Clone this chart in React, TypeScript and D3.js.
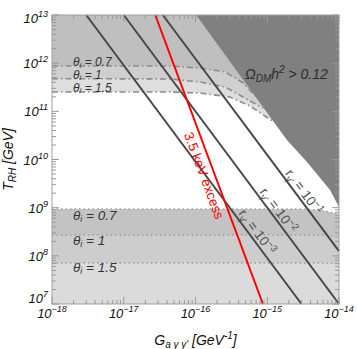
import React from 'react';
import * as d3 from 'd3';

// svg size and plot frame
const svgWidth = 357;
const svgHeight = 349;
const plotLeft = 52;
const plotRight = 339;
const plotTop = 15;
const plotBottom = 304;
const font = '"Liberation Sans", Arial, sans-serif';

// axes: G_{a gamma gamma'} [GeV^-1] and T_RH [GeV]
const gDomain = [1e-18, 1e-14];
const tDomain = [1e7, 1e13];
const xTickExps = [-18, -17, -16, -15, -14];
const yTickExps = [7, 8, 9, 10, 11, 12, 13];

// r_gamma' lines, end points [G, T]
const rExps = ['1', '2', '3'];
const rLines = [
  [[3.5e-17, 1e13], [1e-14, 1.25e8]],
  [[1e-17, 1e13], [1e-14, 1e7]],
  [[3.0e-18, 1e13], [3.0e-15, 1e7]],
];
const rLabelT = [4.7e9, 1.95e9, 6.9e8];

// 3.5 keV excess line
const excessLine = [[2.75e-17, 1e13], [8.7e-16, 1e7]];
const excessLabelT = 5.5e9;

// Omega_DM h^2 > 0.12 boundary
const dmEdge = [
  [1.02e-16, 1e13], [7.4e-16, 1.72e11], [1.88e-15, 2.54e10],
  [3.58e-15, 8.9e9], [7.5e-15, 2.33e9], [1e-14, 1.03e9],
];

// theta_i curves, upper (dash-dot) and lower (dotted)
const thetaNames = ['0.7', '1', '1.5'];
const upperTheta = [
  [[1e-18, 8.73e11], [4.4e-17, 8.73e11], [1.16e-16, 7.9e11], [2.58e-16, 6.6e11], [4.6e-16, 3.9e11], [7.0e-16, 2.0e11]],
  [[1e-18, 4.77e11], [4.4e-17, 4.7e11], [1.16e-16, 4.06e11], [2.58e-16, 3.2e11], [4.6e-16, 1.99e11], [8.7e-16, 1.17e11]],
  [[1e-18, 2.52e11], [4.4e-17, 2.52e11], [1.16e-16, 2.4e11], [3.0e-16, 1.99e11], [5.75e-16, 1.29e11], [1.24e-15, 6.0e10]],
];
const lowerTheta = [
  [[1e-18, 9.4e8], [2.86e-15, 9.4e8], [5.4e-15, 8.95e8], [1e-14, 7.4e8]],
  [[1e-18, 2.71e8], [5.4e-15, 2.71e8], [1e-14, 2.46e8]],
  [[1e-18, 7.1e7], [5.4e-15, 7.1e7], [1e-14, 6.9e7]],
];
const upperFill = ['#bfbfbf', '#cfcfcf', '#dedede'];
const lowerFill = ['#c3c3c3', '#cdcdcd', '#dbdbdb'];
const upperLabelT = [8.73e11, 4.77e11, 2.52e11];
const lowerLabelT = [5.6e8, 1.65e8, 4.6e7];

const x = d3.scaleLog().domain(gDomain).range([plotLeft, plotRight]);
const y = d3.scaleLog().domain(tDomain).range([plotBottom, plotTop]);
const line = d3.line<number[]>().x(d => x(d[0])).y(d => y(d[1]));

// point on a straight line at a given T, pushed sideways by d px
function labelPos(pts: number[][], t: number, d: number) {
  const x0 = x(pts[0][0]), y0 = y(pts[0][1]);
  const x1 = x(pts[1][0]), y1 = y(pts[1][1]);
  const a = Math.atan2(y1 - y0, x1 - x0);
  const py = y(t);
  const px = x0 + (py - y0) / (y1 - y0) * (x1 - x0);
  return { x: px + d * Math.sin(a), y: py - d * Math.cos(a), angle: a * 180 / Math.PI };
}

function Ticks() {
  const out: JSX.Element[] = [];
  x.ticks().forEach((v, i) => {
    const major = Math.abs(Math.log10(v) - Math.round(Math.log10(v))) < 1e-6;
    const len = major ? 7 : 4;
    out.push(<line key={'xb' + i} x1={x(v)} x2={x(v)} y1={plotBottom} y2={plotBottom - len} />);
    out.push(<line key={'xt' + i} x1={x(v)} x2={x(v)} y1={plotTop} y2={plotTop + len} />);
  });
  y.ticks().forEach((v, i) => {
    const major = Math.abs(Math.log10(v) - Math.round(Math.log10(v))) < 1e-6;
    const len = major ? 7 : 4;
    out.push(<line key={'yl' + i} x1={plotLeft} x2={plotLeft + len} y1={y(v)} y2={y(v)} />);
    out.push(<line key={'yr' + i} x1={plotRight} x2={plotRight - len} y1={y(v)} y2={y(v)} />);
  });
  return <g stroke="#9a9a9a" strokeWidth={1}>{out}</g>;
}

// tick label baseline shift; end labels are pulled inside the frame
function yLabelShift(e: number) {
  if (e === 13) return 8;
  if (e === 7) return -1;
  return 5;
}

export default function App() {
  const excessPos = labelPos(excessLine, excessLabelT, -15);
  const dmPath = line([...dmEdge, [gDomain[1], tDomain[1]]]) + 'Z';
  return (
    <svg width={svgWidth} height={svgHeight} style={{ position: 'absolute', left: 0, top: 0 }} fontFamily={font}>
      <rect x={0} y={0} width={svgWidth} height={svgHeight} fill="#fff" />

      {/* upper theta bands, biggest first */}
      {[2, 1, 0].map(i => {
        const c = upperTheta[i];
        const last = c[c.length - 1];
        const pts = [[gDomain[0], tDomain[1]], [gDomain[1], tDomain[1]], [gDomain[1], last[1]], ...c.slice().reverse()];
        return <path key={'uf' + i} d={line(pts) + 'Z'} fill={upperFill[i]} />;
      })}
      {/* lower theta bands */}
      {[0, 1, 2].map(i => {
        const pts = [[gDomain[0], tDomain[0]], ...lowerTheta[i], [gDomain[1], tDomain[0]]];
        return <path key={'lf' + i} d={line(pts) + 'Z'} fill={lowerFill[i]} />;
      })}
      {upperTheta.map((c, i) => (
        <path key={'ul' + i} d={line(c) || ''} fill="none" stroke="#8c8c8c" strokeWidth={1.6} strokeDasharray="6 3 1.5 3" />
      ))}
      {lowerTheta.map((c, i) => (
        <path key={'ll' + i} d={line(c) || ''} fill="none" stroke="#9a9a9a" strokeWidth={1.3} strokeDasharray="1.5 3" />
      ))}

      {/* dark matter overproduction */}
      <path d={dmPath} fill="#808080" />

      {rLines.map((l, i) => (
        <path key={'r' + i} d={line(l) || ''} stroke="#474747" strokeWidth={2} fill="none" />
      ))}
      <path d={line(excessLine) || ''} stroke="#ff0000" strokeWidth={2} fill="none" />

      {/* labels */}
      {upperTheta.map((c, i) => (
        <text key={'ut' + i} x={73} y={y(upperLabelT[i])} fontSize={12} fontStyle="italic" fill="#333">
          θ<tspan fontSize={8} dy={1.5}>i</tspan><tspan dy={-1.5}> = {thetaNames[i]}</tspan>
        </text>
      ))}
      {lowerTheta.map((c, i) => (
        <text key={'lt' + i} x={73} y={y(lowerLabelT[i])} fontSize={13.5} fontStyle="italic" fill="#333">
          θ<tspan fontSize={9} dy={2}>i</tspan><tspan dy={-2}> = {thetaNames[i]}</tspan>
        </text>
      ))}
      <text x={245} y={79} fontSize={14} fontStyle="italic" fill="#2b2b2b">
        Ω<tspan fontSize={10} dy={3}>DM</tspan><tspan dy={-3}>h</tspan><tspan fontSize={10} dy={-6}>2</tspan><tspan dy={6}> &gt; 0.12</tspan>
      </text>
      <text x={excessPos.x} y={excessPos.y} transform={`rotate(${excessPos.angle} ${excessPos.x} ${excessPos.y})`}
        textAnchor="middle" fontSize={13.5} fill="#ff0000">3.5 keV excess</text>
      {rLines.map((l, i) => {
        const p = labelPos(l, rLabelT[i], 3);
        return (
          <text key={'rt' + i} x={p.x} y={p.y} transform={`rotate(${p.angle} ${p.x} ${p.y})`} fontSize={13.5} fill="#4d4d4d">
            r<tspan fontSize={9.5} dy={3}>γ'</tspan><tspan dy={-3}> = 10</tspan><tspan fontSize={9.5} dy={-5}>−{rExps[i]}</tspan>
          </text>
        );
      })}

      <rect x={plotLeft} y={plotTop} width={plotRight - plotLeft} height={plotBottom - plotTop} fill="none" stroke="#a0a0a0" strokeWidth={1} />
      <Ticks />

      {/* tick labels */}
      {xTickExps.map(e => (
        <text key={'xl' + e} x={x(Math.pow(10, e))} y={318} textAnchor="middle" fontSize={13} fontStyle="italic" fill="#111">
          10<tspan fontSize={9} dy={-6}>−{Math.abs(e)}</tspan>
        </text>
      ))}
      {yTickExps.map(e => (
        <text key={'yl' + e} x={48} y={y(Math.pow(10, e)) + yLabelShift(e)} textAnchor="end" fontSize={13} fontStyle="italic" fill="#111">
          10<tspan fontSize={9} dy={-6}>{e}</tspan>
        </text>
      ))}

      {/* axis titles */}
      <text x={(plotLeft + plotRight) / 2} y={345} textAnchor="middle" fontSize={14} fontStyle="italic" fill="#111">
        G<tspan fontSize={10} dy={3}>a γ γ'</tspan><tspan dy={-3}> [GeV</tspan><tspan fontSize={10} dy={-6}>-1</tspan><tspan dy={6}>]</tspan>
      </text>
      <text x={13} y={(plotTop + plotBottom) / 2} transform={`rotate(-90 13 ${(plotTop + plotBottom) / 2})`} textAnchor="middle" fontSize={14} fontStyle="italic" fill="#111">
        T<tspan fontSize={10} dy={3}>RH</tspan><tspan dy={-3}> [GeV]</tspan>
      </text>
    </svg>
  );
}
